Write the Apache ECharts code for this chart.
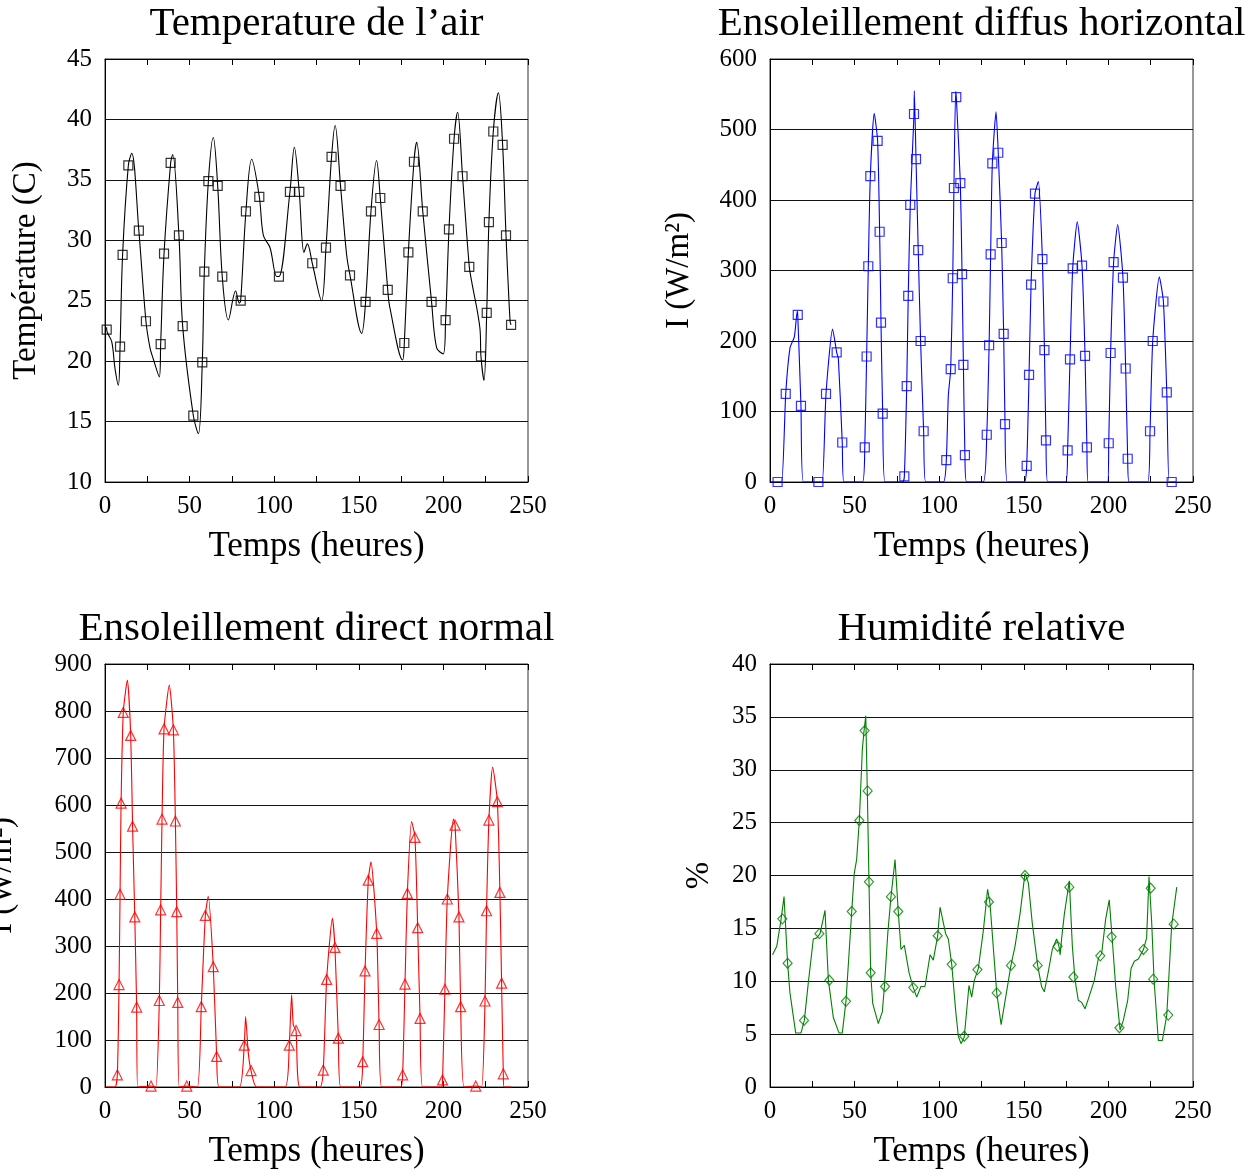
<!DOCTYPE html>
<html>
<head>
<meta charset="utf-8">
<script src="https://cdn.jsdelivr.net/npm/echarts@6/dist/echarts.min.js"></script>
<style>
html,body{margin:0;padding:0;background:#fff;}
#chart{width:1259px;height:1171px;}
</style>
</head>
<body>
<div id="chart"></div>
<script>
// ---------- DATA ----------
const titles = ['Temperature de l\u2019air', 'Ensoleillement diffus horizontal', 'Ensoleillement direct normal', 'Humidit\u00e9 relative'];
const xAxisName = 'Temps (heures)';
const yAxisNames = ['Temp\u00e9rature (C)', 'I (W/m\u00b2)', 'I (W/m\u00b2)', '%'];

// Temperature: line vertices and marker points
const tempLineHours = [1, 4, 5.9, 7.9, 15.8, 26.6, 28.5, 32.1, 40, 55.2, 64, 72.9, 77.2, 79.4, 86.7, 93.6, 97.5, 101.5, 111.9, 117.6, 119.6, 128, 136, 142.8, 151.7, 160.5, 168.4, 175.9, 184.2, 196, 199.9, 208.4, 216.7, 221.6, 224, 232.5, 239.4];
const tempLineValues = [22.8, 21.6, 19.4, 18.0, 37.2, 21.1, 20.2, 18.7, 37.1, 14.0, 38.5, 23.4, 25.8, 24.8, 36.7, 30.4, 29.4, 27.0, 37.7, 29.0, 29.7, 25.0, 39.5, 28.8, 22.3, 36.6, 24.4, 20.1, 38.1, 21.1, 20.6, 40.6, 26.6, 22.7, 18.4, 42.2, 23.3];
const tempMarkHours = [1, 8.9, 10.4, 13.8, 20, 24.2, 32.9, 34.9, 38.8, 43.7, 45.9, 52.2, 57.5, 58.7, 61.1, 66.6, 69.3, 80.2, 83.3, 91.2, 102.8, 109.3, 114.8, 122.5, 130.6, 133.9, 139.2, 144.8, 154, 157.2, 162.7, 167.1, 176.9, 179.3, 182.6, 187.8, 193, 201.3, 203.3, 206.3, 211.3, 215.3, 222.2, 225.6, 226.9, 229.5, 235, 237, 240];
const tempMarkValues = [22.6, 21.2, 28.8, 36.2, 30.8, 23.3, 21.4, 28.9, 36.4, 30.4, 22.9, 15.5, 19.9, 27.4, 34.9, 34.5, 27.0, 25.0, 32.4, 33.6, 27.0, 34.0, 34.0, 28.1, 29.4, 36.9, 34.5, 27.1, 24.9, 32.4, 33.5, 25.9, 21.5, 29.0, 36.5, 32.4, 24.9, 23.4, 30.9, 38.4, 35.3, 27.8, 20.4, 24.0, 31.5, 39.0, 37.9, 30.4, 23.0];

// Diffuse horizontal
const diffLineHours = [0, 6.9, 11.8, 14.4, 16.1, 19.7, 30.9, 37, 40.4, 43.7, 54.6, 61.6, 68, 78.4, 85.3, 92, 102.4, 105.4, 109.7, 116.2, 126, 133.6, 140.3, 150.3, 158.6, 164.1, 174.8, 181.6, 188, 199.6, 205.5, 212.2, 223.2, 230.1, 235.8, 240];
const diffLineValues = [0, 0, 190, 206, 242, 0, 0, 217, 175, 0, 0, 523, 0, 0, 555, 0, 0, 123, 554, 0, 0, 525, 0, 0, 426, 0, 0, 369, 0, 0, 365, 0, 0, 291, 0, 0];
const diffMarkHours = [4.5, 9.3, 16.4, 18.3, 28.6, 33.1, 39.4, 42.7, 56, 57.1, 58.1, 59.3, 63.6, 64.8, 65.6, 66.6, 79.4, 80.8, 81.7, 82.9, 85.1, 86.3, 87.6, 89, 90.8, 104.2, 106.8, 108, 108.7, 110.1, 112.5, 113.5, 114.3, 115.2, 128.1, 129.5, 130.4, 131.4, 134.9, 136.9, 138.1, 138.9, 151.7, 153.1, 154.3, 156.6, 161, 162.2, 163.1, 175.9, 177.3, 178.9, 184.4, 186.2, 187.3, 200.2, 201.3, 203.1, 208.6, 210.2, 211.4, 224.6, 226.2, 232.5, 234.5, 237.4];
const diffMarkValues = [0, 125, 237, 108, 0, 125, 184, 56, 49, 178, 306, 434, 484, 355, 226, 97, 8, 136, 264, 393, 522, 458, 329, 200, 72, 31, 160, 289, 417, 546, 424, 295, 166, 38, 67, 194, 323, 452, 467, 339, 210, 82, 23, 152, 280, 409, 316, 187, 59, 45, 174, 303, 307, 179, 49, 55, 183, 312, 290, 161, 33, 72, 200, 256, 127, 0];

// Direct normal
const dirLineHours = [0, 5.9, 13.2, 19.3, 30.1, 38, 43.9, 54.6, 61, 67.4, 79.4, 83.1, 84.7, 89.6, 106.4, 110.3, 111.3, 115.2, 127, 134.4, 139.3, 150.7, 157.2, 163.5, 174.7, 181.2, 187.7, 199, 205.9, 212.2, 222.6, 229.1, 235.8, 240];
const dirLineValues = [0, 0, 866, 0, 0, 855, 0, 0, 406, 0, 0, 150, 72, 0, 0, 196, 132, 0, 0, 359, 0, 0, 479, 0, 0, 565, 0, 0, 570, 0, 0, 681, 0, 0];
const dirMarkHours = [7.3, 8.3, 8.9, 9.5, 10.8, 15.2, 16.3, 17.6, 18.7, 27.2, 32.1, 32.9, 33.7, 34.9, 40.4, 41.6, 42.4, 43, 48.3, 56.9, 59.3, 64, 66, 82.3, 86.3, 108.9, 112.9, 129, 131, 135.9, 137.9, 152.3, 153.7, 155.6, 160.6, 162, 175.9, 177.3, 178.7, 183.2, 184.8, 186.2, 199.5, 200.9, 202.3, 206.9, 209.2, 210.2, 219.1, 224.6, 225.5, 226.9, 231.9, 233.4, 234.4, 235.4];
const dirMarkValues = [26, 218, 410, 604, 797, 748, 555, 362, 170, 2, 184, 377, 570, 762, 760, 566, 373, 180, 2, 171, 365, 256, 65, 89, 35, 89, 120, 36, 229, 297, 104, 54, 247, 440, 327, 133, 26, 219, 412, 531, 339, 146, 15, 208, 400, 557, 362, 171, 2, 183, 375, 568, 607, 414, 221, 28];

// Relative humidity
const humLineHours = [1.5, 4, 6.5, 8.3, 10.4, 11.8, 15.2, 18.3, 20.3, 22.6, 25.6, 27.6, 29.6, 32.5, 34.5, 37.4, 40.8, 42.7, 44.9, 48.3, 49.8, 51.2, 52.8, 54.6, 55.6, 56.6, 57.5, 58.5, 59.5, 60.7, 64, 66.4, 67.6, 69.6, 71.5, 73.9, 75.8, 77.4, 79.4, 82.2, 84.7, 86.7, 89.2, 91.6, 94.6, 96.5, 99.1, 100.5, 101.5, 103.8, 105.4, 107.4, 109.8, 111.3, 112.9, 114.8, 117.6, 119.2, 120.8, 123.1, 126.1, 128.6, 130, 134, 136.6, 139.3, 142.4, 144.8, 147.8, 150.7, 152.7, 155, 158.2, 160.5, 162.1, 164.5, 166.8, 169.4, 170.8, 171.5, 172.4, 174, 176.9, 178.7, 180.3, 182.2, 184.2, 186.2, 188.5, 191.7, 194.1, 196, 198.4, 200.5, 202.3, 204.3, 206.9, 208.8, 211.4, 213.4, 215.3, 217.7, 220.7, 222.6, 224, 225.6, 227, 229.5, 231.9, 234.5, 237.4, 240.4];
const humLineValues = [12.5, 13.3, 15.8, 18.0, 11.7, 8.9, 5.1, 5.1, 6.3, 9.8, 14.0, 14.1, 14.5, 16.7, 10.1, 6.6, 5.1, 5.1, 8.1, 16.6, 20.2, 21.5, 25.2, 32.0, 33.7, 35.1, 28.1, 19.4, 10.8, 7.9, 6.0, 7.1, 9.5, 14.5, 18.0, 21.5, 16.6, 13.0, 13.4, 10.8, 9.4, 8.5, 9.5, 9.5, 12.5, 12.0, 14.3, 17.0, 17.0, 14.5, 14.0, 11.6, 7.1, 4.8, 4.1, 4.7, 9.6, 8.5, 10.1, 11.2, 14.8, 18.7, 17.4, 8.9, 5.9, 8.5, 11.5, 13.3, 16.4, 20.2, 19.3, 15.5, 11.5, 9.5, 9.0, 10.9, 13.0, 14.0, 13.3, 12.5, 14.1, 16.4, 19.5, 13.3, 10.1, 8.2, 8.0, 7.4, 8.5, 10.1, 12.2, 12.6, 15.9, 17.7, 13.9, 9.5, 5.4, 6.3, 8.2, 11.2, 11.9, 12.1, 13.0, 14.1, 19.9, 15.5, 10.1, 4.4, 4.4, 6.8, 15.3, 18.9];
const humMarkHours = [7.3, 10.4, 20.1, 29.2, 35.1, 44.9, 48.3, 52.8, 55.9, 57.7, 58.5, 59.5, 68, 71.5, 75.8, 84.7, 99.1, 107.4, 114.8, 122.6, 129.4, 134, 142.4, 150.7, 158.2, 170, 176.9, 179.3, 195.2, 201.9, 206.5, 220.7, 225, 226.5, 235.4, 238.6];
const humMarkValues = [15.9, 11.7, 6.3, 14.5, 10.1, 8.1, 16.6, 25.2, 33.7, 28.0, 19.4, 10.8, 9.5, 18.0, 16.6, 9.4, 14.3, 11.6, 4.8, 11.1, 17.5, 8.9, 11.5, 20.0, 11.5, 13.3, 18.9, 10.4, 12.4, 14.2, 5.6, 13.0, 18.8, 10.2, 6.8, 15.4];

// y axis ranges (min, max, interval) per panel
const yMins = [10, 0, 0, 0];
const yMaxs = [45, 600, 900, 40];
const yIntervals = [5, 100, 100, 5];
const xMin = 0, xMax = 250, xInterval = 50;

// ---------- BUILD ----------
function pairs(h, v) { return h.map((x, i) => [x, v[i]]); }
function merged(h1, v1, h2, v2) {
  return pairs(h1, v1).concat(pairs(h2, v2)).sort((a, b) => a[0] - b[0]);
}

const FONT = 'Liberation Serif';
const grids = [
  { left: 105, top: 59, width: 423, height: 423 },
  { left: 770, top: 59, width: 423, height: 423 },
  { left: 105, top: 664, width: 423, height: 423 },
  { left: 770, top: 664, width: 423, height: 423 }
];
const yNameGaps = [62, 74, 86, 54];
const colors = ['#000000', '#0000ff', '#ff0000', '#008000'];
const symbols = ['rect', 'rect', 'triangle', 'diamond'];
const symbolSizes = [9, 9, 10, [9, 10]];

const lineData = [
  merged(tempLineHours, tempLineValues, tempMarkHours, tempMarkValues),
  merged(diffLineHours, diffLineValues, diffMarkHours, diffMarkValues),
  merged(dirLineHours, dirLineValues, dirMarkHours, dirMarkValues),
  pairs(humLineHours, humLineValues)
];
const markData = [
  pairs(tempMarkHours, tempMarkValues),
  pairs(diffMarkHours, diffMarkValues),
  pairs(dirMarkHours, dirMarkValues),
  pairs(humMarkHours, humMarkValues)
];
const smooths = [0.35, 0.2, 0.2, false];

const xAxes = [], yAxes = [], series = [], graphics = [];
grids.forEach((g, i) => {
  g.show = true; g.borderColor = '#333'; g.borderWidth = 1; g.backgroundColor = '#fff';
  g.containLabel = false; g.outerBoundsMode = 'none';
  const baseX = {
    gridIndex: i, type: 'value', min: xMin, max: xMax, interval: xInterval,
    axisLine: { show: true, lineStyle: { color: '#000', width: 1 } },
    axisTick: { show: true, inside: true, length: 6, lineStyle: { color: '#000' } },
    minorTick: { show: true, splitNumber: 2, length: 6, lineStyle: { color: '#000' } },
    splitLine: { show: false }
  };
  xAxes.push(Object.assign({}, baseX, {
    position: 'bottom',
    axisLabel: { fontFamily: FONT, fontSize: 25, color: '#000', margin: 12 },
    name: xAxisName, nameLocation: 'middle', nameGap: 47,
    nameTextStyle: { fontFamily: FONT, fontSize: 35, color: '#000' }
  }));
  xAxes.push(Object.assign({}, baseX, {
    position: 'top', axisLabel: { show: false }
  }));
  yAxes.push({
    gridIndex: i, type: 'value', min: yMins[i], max: yMaxs[i], interval: yIntervals[i],
    axisLine: { show: true, lineStyle: { color: '#000', width: 1 } },
    axisTick: { show: false },
    splitLine: { show: true, lineStyle: { color: '#111', width: 1.2 } },
    axisLabel: { fontFamily: FONT, fontSize: 25, color: '#000', margin: 13 },
    name: yAxisNames[i], nameLocation: 'middle', nameGap: yNameGaps[i], nameRotate: 90,
    nameTextStyle: { fontFamily: FONT, fontSize: 33, color: '#000' }
  });
  series.push({
    type: 'line', xAxisIndex: 2 * i, yAxisIndex: i, data: lineData[i],
    showSymbol: false, smooth: smooths[i], clip: true,
    lineStyle: { color: colors[i], width: 1.1 }, itemStyle: { color: colors[i] },
    animation: false, z: 3
  });
  series.push({
    type: 'scatter', xAxisIndex: 2 * i, yAxisIndex: i, data: markData[i],
    symbol: symbols[i], symbolSize: symbolSizes[i],
    itemStyle: { color: 'rgba(255,255,255,0)', borderColor: colors[i], borderWidth: 1.2 },
    animation: false, z: 4
  });
  graphics.push({
    type: 'text', x: g.left + g.width / 2, y: g.top - 55,
    style: { text: titles[i], fontFamily: FONT, fontSize: 41, fill: '#000', textAlign: 'center', textVerticalAlign: 'top' }
  });
});

const chart = echarts.init(document.getElementById('chart'), null, { renderer: 'canvas' });
chart.setOption({
  animation: false,
  backgroundColor: '#fff',
  grid: grids,
  xAxis: xAxes,
  yAxis: yAxes,
  series: series,
  graphic: graphics
});
</script>
</body>
</html>
